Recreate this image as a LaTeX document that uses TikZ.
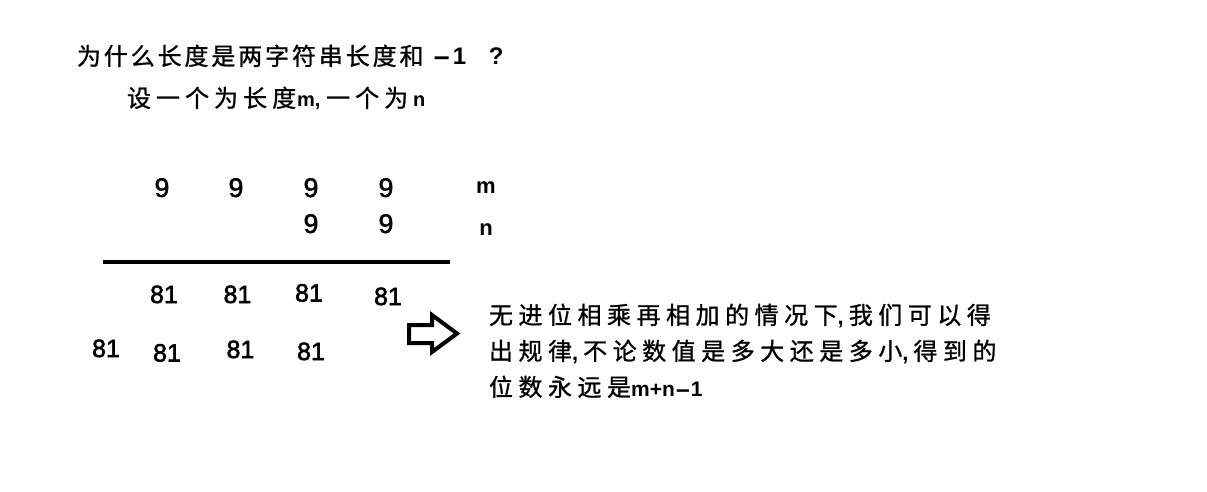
\documentclass[tikz,border=0pt]{standalone}
\usepackage{fontspec}
\usepackage{graphicx}
\setmainfont{Liberation Sans}
\newfontfamily\cjkA[LetterSpace=12,FakeBold=1]{Noto Sans CJK SC}
\newfontfamily\cjkC[LetterSpace=21,FakeBold=1]{Noto Sans CJK SC}
\newfontfamily\cjkB[LetterSpace=23,FakeBold=1]{Noto Sans CJK SC}
\newfontfamily\digf[FakeBold=1.6]{Liberation Sans}
\newfontfamily\prodf[FakeBold=2.2]{Liberation Sans}
\newcommand{\wdash}{\scalebox{2.3}[1]{-}}
\tikzset{
  txt/.style={inner sep=0pt, outer sep=0pt, anchor=base west},
  dig/.style={inner sep=0pt, outer sep=0pt, anchor=base, font=\digf\fontsize{27}{27}\selectfont},
  prod/.style={inner sep=0pt, outer sep=0pt, anchor=base, font=\prodf\fontsize{25}{25}\selectfont},
  lab/.style={inner sep=0pt, outer sep=0pt, anchor=base, font=\bfseries\fontsize{22}{22}\selectfont},
  rulebar/.style={line width=3.3pt},
  outarrow/.style={line width=4pt, line join=miter, draw=black, fill=white}
}
\begin{document}
\begin{tikzpicture}[x=1pt,y=-1pt]
\fill[white] (0,0) rectangle (1207,492);
\useasboundingbox (0,0) rectangle (1207,492);

% title
\node[txt] (t1) at (77,65) {{\cjkA\fontsize{24}{24}\selectfont 为什么长度是两字符串长度和}{\bfseries\fontsize{24}{24}\selectfont\hspace{9pt}\wdash\hspace{2pt}1 \hspace{16pt}?}};
\node[txt] (t2) at (127,107) {{\cjkC\fontsize{24}{24}\selectfont 设一个为长度}{\bfseries\fontsize{20}{20}\selectfont\hspace{1pt}m, }{\cjkC\fontsize{24}{24}\selectfont 一个为}{\bfseries\fontsize{20}{20}\selectfont\hspace{5pt}n}};

% multiplicand / multiplier
\node[dig] (a1) at (162,197) {9};
\node[dig] (a2) at (236,197) {9};
\node[dig] (a3) at (311,197) {9};
\node[dig] (a4) at (386,197) {9};
\node[dig] (b3) at (311,233) {9};
\node[dig] (b4) at (386,233) {9};
\node[lab] (m) at (486,193) {m};
\node[lab] (n) at (486,235) {n};

% rule
\coordinate (ruleL) at (103,262);
\coordinate (ruleR) at (450,262);
\draw[rulebar] (ruleL) -- (ruleR);

% partial products
\node[prod] (p1) at (164,303) {81};
\node[prod] (p2) at (237.5,303) {81};
\node[prod] (p3) at (309,301.5) {81};
\node[prod] (p4) at (388,305) {81};
\node[prod] (q1) at (106,357) {81};
\node[prod] (q2) at (167,361.5) {81};
\node[prod] (q3) at (240.5,358) {81};
\node[prod] (q4) at (311,360) {81};

% block arrow
\draw[outarrow] (409,325) -- (432,325) -- (432,315) -- (457,333.5) -- (432,352) -- (432,343) -- (409,343) -- cycle;

% explanation
\node[txt] (e1) at (489,324) {{\cjkB\fontsize{24}{24}\selectfont 无进位相乘再相加的情况下}{\bfseries\fontsize{22}{22}\selectfont,}\hspace{5pt}{\cjkB\fontsize{24}{24}\selectfont 我们可以得}};
\node[txt] (e2) at (489,360) {{\cjkB\fontsize{24}{24}\selectfont 出规律}{\bfseries\fontsize{22}{22}\selectfont,}\hspace{5pt}{\cjkB\fontsize{24}{24}\selectfont 不论数值是多大还是多小}{\bfseries\fontsize{22}{22}\selectfont,}\hspace{5pt}{\cjkB\fontsize{24}{24}\selectfont 得到的}};
\node[txt] (e3) at (489,396) {{\cjkB\fontsize{24}{24}\selectfont 位数永远是}{\bfseries\fontsize{21}{21}\selectfont m+n\wdash1}};
\end{tikzpicture}
\end{document}
